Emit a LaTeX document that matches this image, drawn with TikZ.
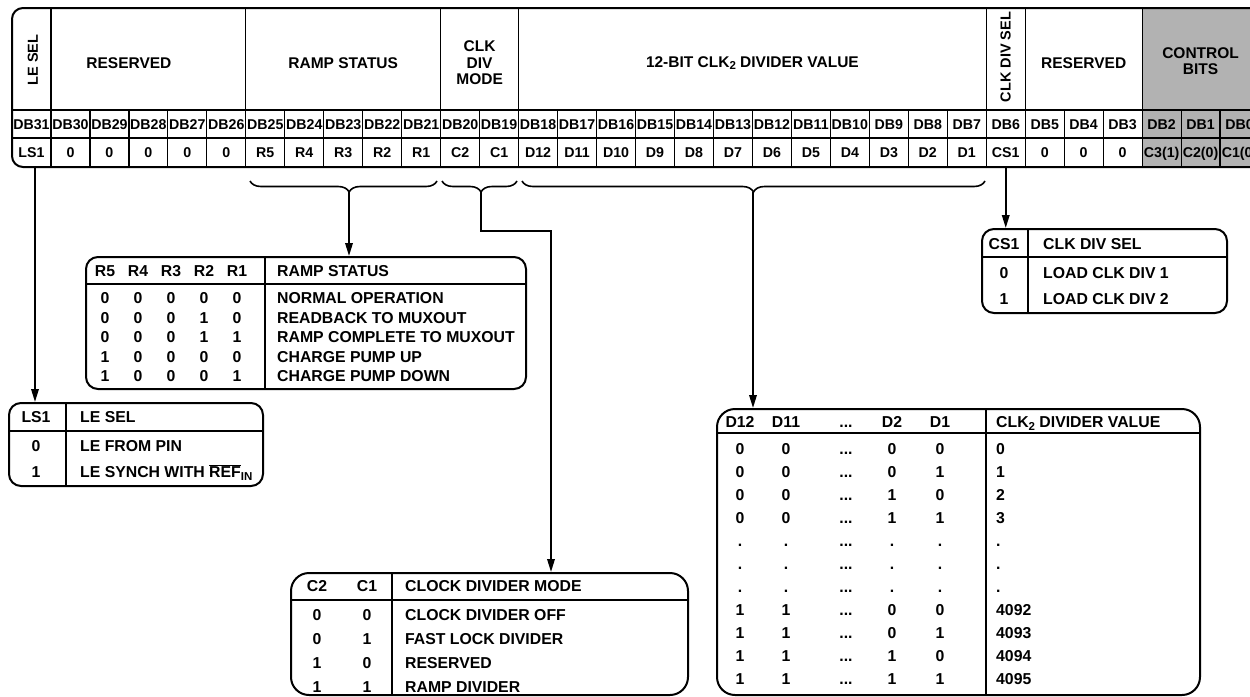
\documentclass[tikz,border=0pt]{standalone}
\usepackage{fontspec}
\setmainfont{Liberation Sans}
\usetikzlibrary{arrows.meta,decorations.pathreplacing}
\definecolor{ctrlgray}{gray}{0.7}
\newcommand\lowsub[1]{\raisebox{-0.3ex}{\fontsize{11.5}{12}\selectfont #1}}

\begin{document}
\begin{tikzpicture}[x=1pt,y=-1pt,
    frame/.style={line width=2pt},
    thin/.style={line width=1.2pt},
    tbl/.style={draw, line width=2pt, rounded corners=12pt, inner sep=0pt},
    lbl/.style={font=\bfseries\fontsize{14.2}{16}\selectfont, inner sep=0pt, text height=10pt, text depth=0pt},
    cellb/.style={lbl, minimum width=38.97pt, minimum height=28pt},
    val/.style={lbl, minimum width=38.97pt, minimum height=29pt},
    hdr/.style={font=\bfseries\fontsize{15.5}{16.5}\selectfont, inner sep=0pt, align=center},
    ent/.style={font=\bfseries\fontsize{15.8}{17}\selectfont, inner sep=0pt, text height=11pt, text depth=0pt},
    arr/.style={line width=1.8pt, -{Triangle[length=13pt,width=7.5pt]}},
    brc/.style={line width=1.6pt, decorate, decoration={brace, mirror, amplitude=11pt}}]
	\useasboundingbox (0,0) rectangle (1250,696);
	\fill[ctrlgray] (1143,8) rectangle (1265,167);
	\draw[thin] (12,110) -- (1265,110);
	\draw[thin] (12,138) -- (1265,138);
	\foreach \i in {1,6,11,13,25,26,29}
		\draw[thin] ({12+\i*38.97},8) -- ({12+\i*38.97},110);
	\foreach \i in {1,...,31}
		\draw[thin] ({12+\i*38.97},110) -- ({12+\i*38.97},167);
	\draw[frame, rounded corners=11pt] (1265,8) -- (12,8) -- (12,167) -- (1265,167);
	\node[hdr, rotate=90, font=\bfseries\fontsize{14.5}{16}\selectfont] (hlesel) at (33,60) {LE SEL};
	\node[hdr] (hres) at (128.9,63) {RESERVED};
	\node[hdr] (hramp) at (343.2,63) {RAMP STATUS};
	\node[hdr] (hmode) at (479.6,63) {CLK\\DIV\\MODE};
	\node[hdr] (hdiv) at (752.4,63) {12-BIT CLK\lowsub{2} DIVIDER VALUE};
	\node[hdr, rotate=90, font=\bfseries\fontsize{14.5}{16}\selectfont] (hcsel) at (1005.7,57) {CLK DIV SEL};
	\node[hdr] (hresb) at (1083.7,63) {RESERVED};
	\node[hdr] (hctrl) at (1200.6,61) {CONTROL\\BITS};
	\foreach \b in {0,...,31}
		\node[cellb] (db\b) at ({12+(31-\b+0.5)*38.97},124) {DB\b};
	\foreach \v [count=\i from 0] in {LS1,0,0,0,0,0,R5,R4,R3,R2,R1,C2,C1,D12,D11,D10,D9,D8,D7,D6,D5,D4,D3,D2,D1,CS1,0,0,0,C3(1),C2(0),C1(0)}{
		\pgfmathtruncatemacro\b{31-\i}
		\node[val] (v\b) at ({12+(\i+0.5)*38.97},152.5) {\v};
	}
	\draw[brc, decoration={aspect=0.53}] (250,181) -- (437,181);
	\draw[brc, decoration={aspect=0.52}] (442,181) -- (517,181);
	\draw[brc, decoration={aspect=0.5}] (522,181) -- (985,181);
	\coordinate (rampbr) at (349,192);
	\coordinate (modebr) at (481,192);
	\coordinate (divbr) at (753,192);
	\coordinate (modebend) at (551,231);
	\node[tbl, minimum width=440pt, minimum height=132pt] (ramptab) at (306,323) {};
	\draw[thin] (86,284) -- (526,284);
	\draw[thin] (265,257) -- (265,389);
	\foreach \r [count=\j from 0] in {R5,R4,R3,R2,R1}
		\node[ent] (rh\j) at ({105+33*\j},271) {\r};
	\node[ent, anchor=west] (rhname) at (277,271) {RAMP STATUS};
	\foreach \bits/\txt [count=\k from 0] in {{0,0,0,0,0}/NORMAL OPERATION, {0,0,0,1,0}/READBACK TO MUXOUT, {0,0,0,1,1}/RAMP COMPLETE TO MUXOUT, {1,0,0,0,0}/CHARGE PUMP UP, {1,0,0,0,1}/CHARGE PUMP DOWN}{
		\foreach \d [count=\j from 0] in \bits
			\node[ent] (rb\k\j) at ({105+33*\j},{298+19.5*\k}) {\d};
		\node[ent, anchor=west] (rt\k) at (277,{298+19.5*\k}) {\txt};
	}
	\node[tbl, minimum width=254pt, minimum height=83pt] (lstab) at (136,444.5) {};
	\draw[thin] (9,431) -- (263,431);
	\draw[thin] (66,403) -- (66,486);
	\node[ent] (lshd) at (36,417) {LS1};
	\node[ent, anchor=west] (lsname) at (80,417) {LE SEL};
	\node[ent] (ls0) at (36,446) {0};
	\node[ent, anchor=west] (lst0) at (80,446) {LE FROM PIN};
	\node[ent] (ls1) at (36,472) {1};
	\node[ent, anchor=west] (lst1) at (80,472) {LE SYNCH WITH $\overline{\hbox{REF}}$\lowsub{IN}};
	\node[tbl, minimum width=245pt, minimum height=84pt] (cstab) at (1104.5,271) {};
	\draw[thin] (982,257) -- (1227,257);
	\draw[thin] (1028,229) -- (1028,313);
	\node[ent] (cshd) at (1004,244) {CS1};
	\node[ent, anchor=west] (csname) at (1043,244) {CLK DIV SEL};
	\node[ent] (cs0) at (1004,273) {0};
	\node[ent, anchor=west] (cst0) at (1043,273) {LOAD CLK DIV 1};
	\node[ent] (cs1) at (1004,299) {1};
	\node[ent, anchor=west] (cst1) at (1043,299) {LOAD CLK DIV 2};
	\node[tbl, rounded corners=18pt, minimum width=397pt, minimum height=122pt] (modetab) at (489.5,634) {};
	\draw[thin] (291,600) -- (688,600);
	\draw[thin] (392,573) -- (392,695);
	\node[ent] (mh2) at (317,586) {C2};
	\node[ent] (mh1) at (367,586) {C1};
	\node[ent, anchor=west] (mhname) at (405,586) {CLOCK DIVIDER MODE};
	\foreach \xa/\xb/\txt [count=\k from 0] in {0/0/CLOCK DIVIDER OFF, 0/1/FAST LOCK DIVIDER, 1/0/RESERVED, 1/1/RAMP DIVIDER}{
		\node[ent] (ma\k) at (317,{615+24*\k}) {\xa};
		\node[ent] (mb\k) at (367,{615+24*\k}) {\xb};
		\node[ent, anchor=west] (mt\k) at (405,{615+24*\k}) {\txt};
	}
	\node[tbl, rounded corners=18pt, minimum width=483pt, minimum height=286pt] (dtab) at (958.5,552) {};
	\draw[thin] (717,433) -- (1200,433);
	\draw[thin] (986,409) -- (986,695);
	\node[ent] (dh12) at (740,422) {D12};
	\node[ent] (dh11) at (786,422) {D11};
	\node[ent] (dhm) at (846,422) {...};
	\node[ent] (dh2) at (892,422) {D2};
	\node[ent] (dh1) at (940,422) {D1};
	\node[ent, anchor=west] (dhname) at (996,422) {CLK\lowsub{2} DIVIDER VALUE};
	\foreach \xa/\xb/\xc/\xd/\xv [count=\k from 0] in {0/0/0/0/0, 0/0/0/1/1, 0/0/1/0/2, 0/0/1/1/3, ./././././., ./././././., ./././././., 1/1/0/0/4092, 1/1/0/1/4093, 1/1/1/0/4094, 1/1/1/1/4095}{
		\node[ent] (da\k) at (740,{449+23*\k}) {\xa};
		\node[ent] (db\k) at (786,{449+23*\k}) {\xb};
		\node[ent] (dm\k) at (846,{449+23*\k}) {...};
		\node[ent] (dc\k) at (892,{449+23*\k}) {\xc};
		\node[ent] (dd\k) at (940,{449+23*\k}) {\xd};
		\node[ent, anchor=west] (dv\k) at (996,{449+23*\k}) {\xv};
	}
	\draw[arr] ([xshift=3.5pt]v31.south) -- ([xshift=3.5pt]v31.south |- lstab.north);
	\draw[arr] (rampbr) -- (rampbr |- ramptab.north);
	\draw[arr] (modebr) |- (modebend) -- (modebend |- modetab.north);
	\draw[arr] (divbr) -- (divbr |- dtab.north);
	\draw[arr] (v6.south) -- (v6.south |- cstab.north);
\end{tikzpicture}
\end{document}
